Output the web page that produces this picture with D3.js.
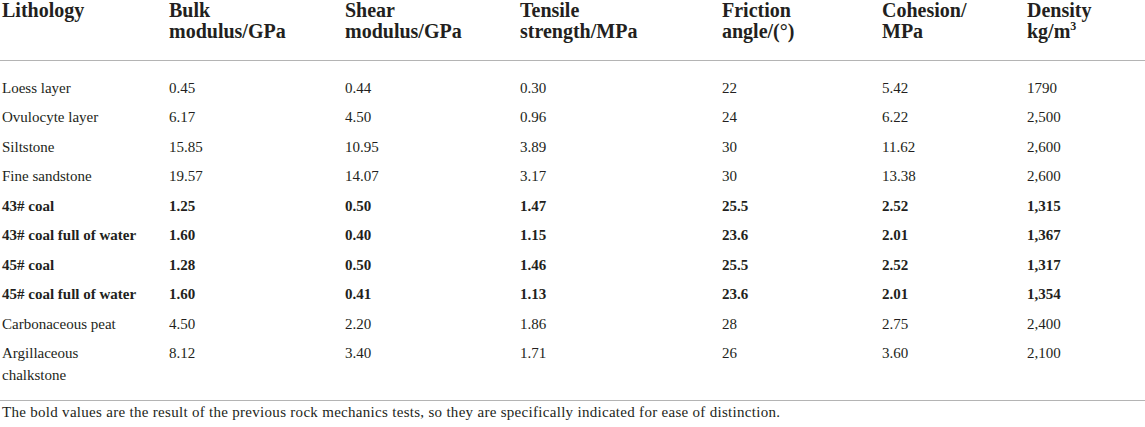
<!DOCTYPE html>
<html>
<head>
<meta charset="utf-8">
<script src="https://cdn.jsdelivr.net/npm/d3@7"></script>
<style>
	body { margin: 0; background: #fff; }
	svg text { font-family: "Liberation Serif", "DejaVu Serif", serif; fill: #231f20; }
</style>
</head>
<body>
<div id="table"></div>
<script>
// table data
var lithology = ["Loess layer", "Ovulocyte layer", "Siltstone", "Fine sandstone", "43# coal",
	"43# coal full of water", "45# coal", "45# coal full of water", "Carbonaceous peat", "Argillaceous chalkstone"];
var bulkModulus = ["0.45", "6.17", "15.85", "19.57", "1.25", "1.60", "1.28", "1.60", "4.50", "8.12"];
var shearModulus = ["0.44", "4.50", "10.95", "14.07", "0.50", "0.40", "0.50", "0.41", "2.20", "3.40"];
var tensileStrength = ["0.30", "0.96", "3.89", "3.17", "1.47", "1.15", "1.46", "1.13", "1.86", "1.71"];
var frictionAngle = ["22", "24", "30", "30", "25.5", "23.6", "25.5", "23.6", "28", "26"];
var cohesion = ["5.42", "6.22", "11.62", "13.38", "2.52", "2.01", "2.52", "2.01", "2.75", "3.60"];
var density = ["1790", "2,500", "2,600", "2,600", "1,315", "1,367", "1,317", "1,354", "2,400", "2,100"];
var boldRows = [false, false, false, false, true, true, true, true, false, false];
var headers = [["Lithology"], ["Bulk", "modulus/GPa"], ["Shear", "modulus/GPa"], ["Tensile", "strength/MPa"],
	["Friction", "angle/(°)"], ["Cohesion/", "MPa"], ["Density", "kg/m"]];
var footnote = "The bold values are the result of the previous rock mechanics tests, so they are specifically indicated for ease of distinction.";

var width = 1145, height = 427;
var columns = [lithology, bulkModulus, shearModulus, tensileStrength, frictionAngle, cohesion, density];

var svg = d3.select("#table").append("svg")
	.attr("width", width)
	.attr("height", height);

// column and row positions
var x = d3.scaleOrdinal()
	.domain(d3.range(columns.length))
	.range([2, 169, 345, 520, 722, 882, 1027]);
var y = d3.scaleLinear()
	.domain([0, lithology.length - 1])
	.range([93, 358]);

// header
var head = svg.append("g").attr("class", "header");
headers.forEach(function (lines, i) {
	var t = head.append("text")
		.attr("x", x(i))
		.attr("y", 17)
		.style("font-size", "20px")
		.style("font-weight", "bold");
	lines.forEach(function (l, j) {
		t.append("tspan")
			.attr("x", x(i))
			.attr("dy", j == 0 ? 0 : 21)
			.text(l);
	});
	if (i == headers.length - 1) {
		t.append("tspan")
			.attr("dy", -8)
			.style("font-size", "12px")
			.text("3");
	}
});

// rules
svg.append("line")
	.attr("x1", 0).attr("x2", width)
	.attr("y1", 60.5).attr("y2", 60.5)
	.style("stroke", "#b4b4b4").style("stroke-width", 1.2);
svg.append("line")
	.attr("x1", 0).attr("x2", width)
	.attr("y1", 400.5).attr("y2", 400.5)
	.style("stroke", "#b4b4b4").style("stroke-width", 1.2);

// body rows
var rows = svg.selectAll(".row")
	.data(d3.range(lithology.length))
	.enter()
	.append("g")
	.attr("class", "row");

columns.forEach(function (col, c) {
	rows.append("text")
		.attr("x", x(c))
		.attr("y", function (r) { return y(r); })
		.style("font-size", "15px")
		.style("font-weight", function (r) { return boldRows[r] ? "bold" : "normal"; })
		.each(function (r) {
			var t = d3.select(this);
			var val = col[r];
			// long lithology name wraps onto two lines
			if (c == 0 && val == "Argillaceous chalkstone") {
				t.append("tspan").attr("x", x(c)).text("Argillaceous");
				t.append("tspan").attr("x", x(c)).attr("dy", 22).text("chalkstone");
			} else {
				t.text(val);
			}
		});
});

// footnote
svg.append("text")
	.attr("x", 2)
	.attr("y", 417)
	.style("font-size", "15px")
	.attr("textLength", 778)
	.attr("lengthAdjust", "spacing")
	.text(footnote);
</script>
</body>
</html>
